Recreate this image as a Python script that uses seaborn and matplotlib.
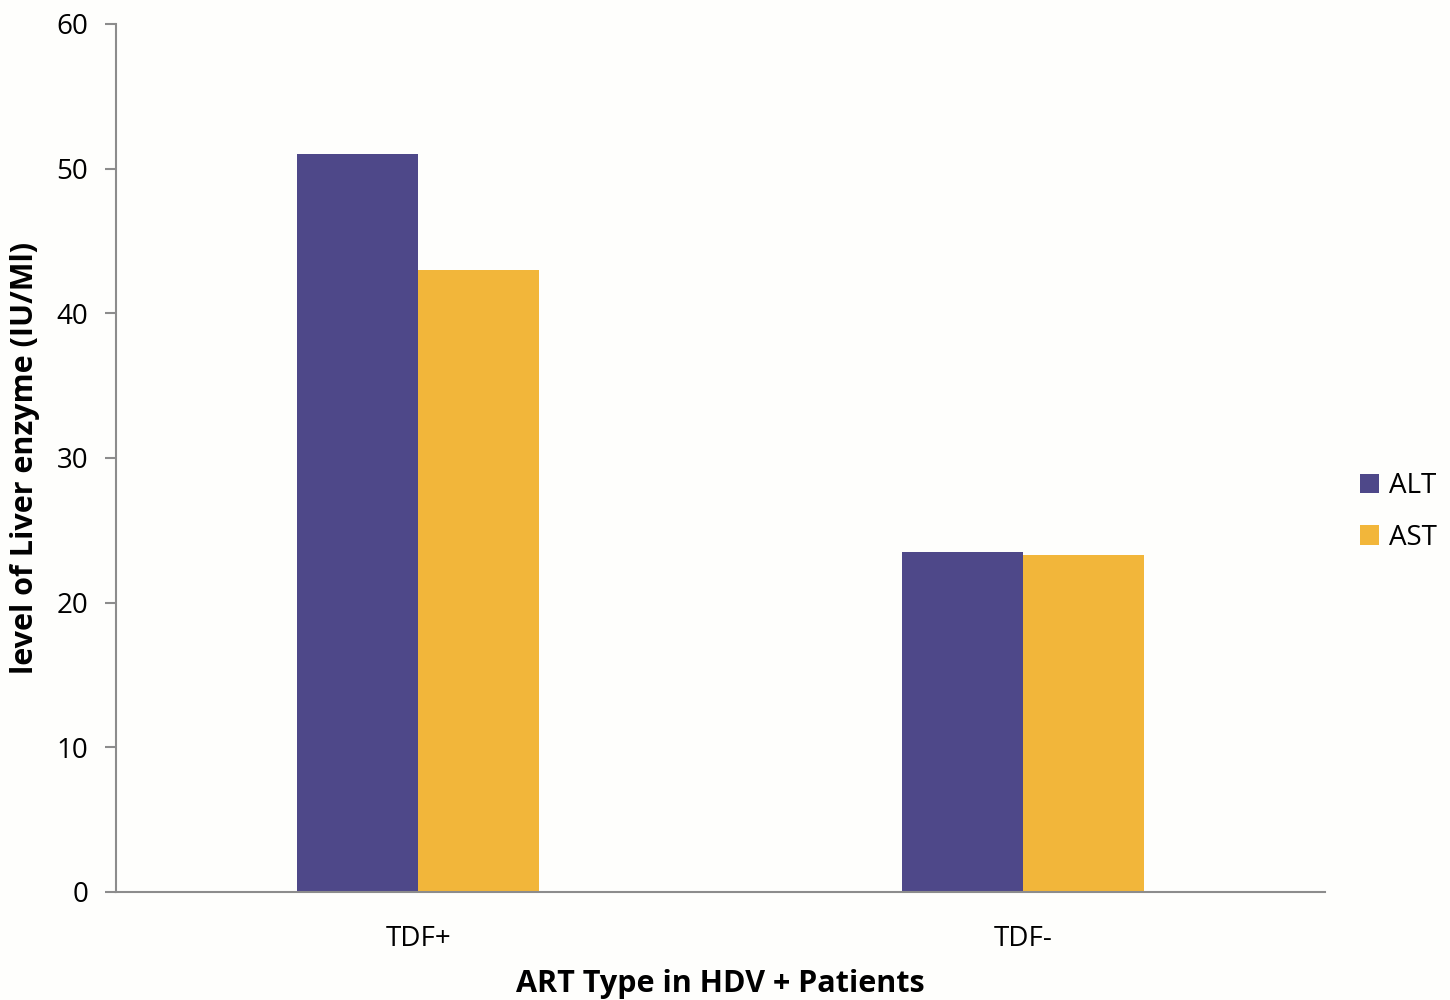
import pandas as pd
import seaborn as sns
import matplotlib.pyplot as plt

# values
groups = ["TDF+", "TDF-"]
alt_values = [51.0, 23.5]
ast_values = [43.0, 23.3]
series = ["ALT", "AST"]
colors = ["#4E4889", "#F2B63A"]

df = pd.DataFrame({
    "group": groups * 2,
    "enzyme": ["ALT"] * len(groups) + ["AST"] * len(groups),
    "value": alt_values + ast_values,
})

sns.set_style("white")
plt.rcParams['font.family'] = ['Open Sans', 'DejaVu Sans']
plt.rcParams['text.color'] = 'black'
plt.rcParams['axes.labelcolor'] = 'black'
plt.rcParams['xtick.color'] = 'black'
plt.rcParams['ytick.color'] = 'black'

fig, ax = plt.subplots(figsize=(14.5, 10), dpi=100)
fig.patch.set_facecolor("#FEFEFC")
ax.set_facecolor("#FEFEFC")

sns.barplot(data=df, x="group", y="value", hue="enzyme", order=groups,
            hue_order=series, palette=colors, width=0.4, saturation=1,
            edgecolor="none", ax=ax)

ax.set_xlim(-0.5, 1.5)
ax.set_ylim(0, 60)
ax.set_yticks(range(0, 61, 10))
ax.tick_params(axis="y", which="both", left=True, length=8, width=1.5,
               color="#8C8C8C", labelcolor="black", labelsize=20, pad=12)
ax.tick_params(axis="x", bottom=False, labelcolor="black", labelsize=20, pad=20)

sns.despine(ax=ax)
for side in ["left", "bottom"]:
    ax.spines[side].set_color("#8C8C8C")
    ax.spines[side].set_linewidth(1.5)

ax.set_xlabel("ART Type in HDV + Patients", fontsize=22, fontweight="bold", labelpad=12)
ax.set_ylabel("level of Liver enzyme (IU/Ml)", fontsize=22, fontweight="bold", labelpad=12)

leg = ax.legend(loc="center left", bbox_to_anchor=(1.008, 0.438), frameon=False,
                fontsize=20, handlelength=0.7, handleheight=0.7, handletextpad=0.35,
                labelspacing=0.85)

plt.subplots_adjust(left=0.08, right=0.914, top=0.976, bottom=0.108)
fig.savefig("out.png", dpi=100, facecolor=fig.get_facecolor())
